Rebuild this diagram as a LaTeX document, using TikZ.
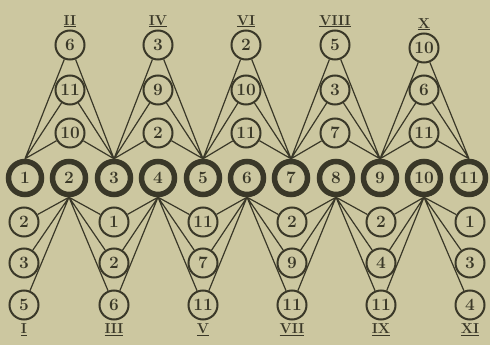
\documentclass[tikz,border=0pt]{standalone}
\usepackage{tikz}
\usetikzlibrary{positioning}
\definecolor{ink}{RGB}{58,56,40}
\definecolor{paper}{RGB}{204,199,160}

\tikzset{
  num/.style={circle, draw=ink, line width=2pt, minimum size=29pt, inner sep=0pt, text=ink, font=\LARGE\bfseries},
  bignum/.style={num, line width=5.5pt, minimum size=33pt},
  link/.style={ink, line width=1.2pt},
  roman/.style={text=ink, font=\Large\bfseries, inner sep=2pt}
}

\begin{document}
\begin{tikzpicture}[x=1pt, y=-1pt]
  \fill[paper] (0,0) rectangle (490,345);
  \useasboundingbox (0,0) rectangle (490,345);

  % middle row
  \node[bignum] (m1)  at (25,178)  {1};
  \node[bignum] (m2)  at (69,178)  {2};
  \node[bignum] (m3)  at (114,178) {3};
  \node[bignum] (m4)  at (158,178) {4};
  \node[bignum] (m5)  at (203,178) {5};
  \node[bignum] (m6)  at (247,178) {6};
  \node[bignum] (m7)  at (291,178) {7};
  \node[bignum] (m8)  at (336,178) {8};
  \node[bignum] (m9)  at (380,178) {9};
  \node[bignum] (m10) at (424,178) {10};
  \node[bignum] (m11) at (469,178) {11};

  % upper columns
  \node[num] (t2a) at (70,45)  {6};
  \node[num] (t2b) at (70,90)  {11};
  \node[num] (t2c) at (70,133) {10};
  \node[roman, above=0pt of t2a] (r2) {\underline{II}};

  \node[num] (t4a) at (158,45)  {3};
  \node[num] (t4b) at (158,90)  {9};
  \node[num] (t4c) at (158,133) {2};
  \node[roman, above=0pt of t4a] (r4) {\underline{IV}};

  \node[num] (t6a) at (246,45)  {2};
  \node[num] (t6b) at (246,90)  {10};
  \node[num] (t6c) at (246,133) {11};
  \node[roman, above=0pt of t6a] (r6) {\underline{VI}};

  \node[num] (t8a) at (335,45)  {5};
  \node[num] (t8b) at (335,90)  {3};
  \node[num] (t8c) at (335,133) {7};
  \node[roman, above=0pt of t8a] (r8) {\underline{VIII}};

  \node[num] (t10a) at (424,48)  {10};
  \node[num] (t10b) at (424,90)  {6};
  \node[num] (t10c) at (424,133) {11};
  \node[roman, above=0pt of t10a] (r10) {\underline{X}};

  % lower columns
  \node[num] (b1a) at (24,222) {2};
  \node[num] (b1b) at (24,263) {3};
  \node[num] (b1c) at (24,305) {5};
  \node[roman, below=1pt of b1c] (r1) {\underline{I}};

  \node[num] (b3a) at (114,222) {1};
  \node[num] (b3b) at (114,263) {2};
  \node[num] (b3c) at (114,305) {6};
  \node[roman, below=1pt of b3c] (r3) {\underline{III}};

  \node[num] (b5a) at (203,222) {11};
  \node[num] (b5b) at (203,263) {7};
  \node[num] (b5c) at (203,305) {11};
  \node[roman, below=1pt of b5c] (r5) {\underline{V}};

  \node[num] (b7a) at (292,222) {2};
  \node[num] (b7b) at (292,263) {9};
  \node[num] (b7c) at (292,305) {11};
  \node[roman, below=1pt of b7c] (r7) {\underline{VII}};

  \node[num] (b9a) at (381,222) {2};
  \node[num] (b9b) at (381,263) {4};
  \node[num] (b9c) at (381,305) {11};
  \node[roman, below=1pt of b9c] (r9) {\underline{IX}};

  \node[num] (b11a) at (470,222) {1};
  \node[num] (b11b) at (470,263) {3};
  \node[num] (b11c) at (470,305) {4};
  \node[roman, below=1pt of b11c] (r11) {\underline{XI}};

  % upper links
  \draw[link] (t2a) -- (m1.north) (t2b) -- (m1.north) (t2c) -- (m1.north)
              (t2a) -- (m3.north) (t2b) -- (m3.north) (t2c) -- (m3.north);
  \draw[link] (t4a) -- (m3.north) (t4b) -- (m3.north) (t4c) -- (m3.north)
              (t4a) -- (m5.north) (t4b) -- (m5.north) (t4c) -- (m5.north);
  \draw[link] (t6a) -- (m5.north) (t6b) -- (m5.north) (t6c) -- (m5.north)
              (t6a) -- (m7.north) (t6b) -- (m7.north) (t6c) -- (m7.north);
  \draw[link] (t8a) -- (m7.north) (t8b) -- (m7.north) (t8c) -- (m7.north)
              (t8a) -- (m9.north) (t8b) -- (m9.north) (t8c) -- (m9.north);
  \draw[link] (t10a) -- (m9.north) (t10b) -- (m9.north) (t10c) -- (m9.north)
              (t10a) -- (m11.north) (t10b) -- (m11.north) (t10c) -- (m11.north);

  % lower links
  \draw[link] (b1a) -- (m2.south) (b1b) -- (m2.south) (b1c) -- (m2.south);
  \draw[link] (b3a) -- (m2.south) (b3b) -- (m2.south) (b3c) -- (m2.south)
              (b3a) -- (m4.south) (b3b) -- (m4.south) (b3c) -- (m4.south);
  \draw[link] (b5a) -- (m4.south) (b5b) -- (m4.south) (b5c) -- (m4.south)
              (b5a) -- (m6.south) (b5b) -- (m6.south) (b5c) -- (m6.south);
  \draw[link] (b7a) -- (m6.south) (b7b) -- (m6.south) (b7c) -- (m6.south)
              (b7a) -- (m8.south) (b7b) -- (m8.south) (b7c) -- (m8.south);
  \draw[link] (b9a) -- (m8.south) (b9b) -- (m8.south) (b9c) -- (m8.south)
              (b9a) -- (m10.south) (b9b) -- (m10.south) (b9c) -- (m10.south);
  \draw[link] (b11a) -- (m10.south) (b11b) -- (m10.south) (b11c) -- (m10.south);
\end{tikzpicture}
\end{document}
